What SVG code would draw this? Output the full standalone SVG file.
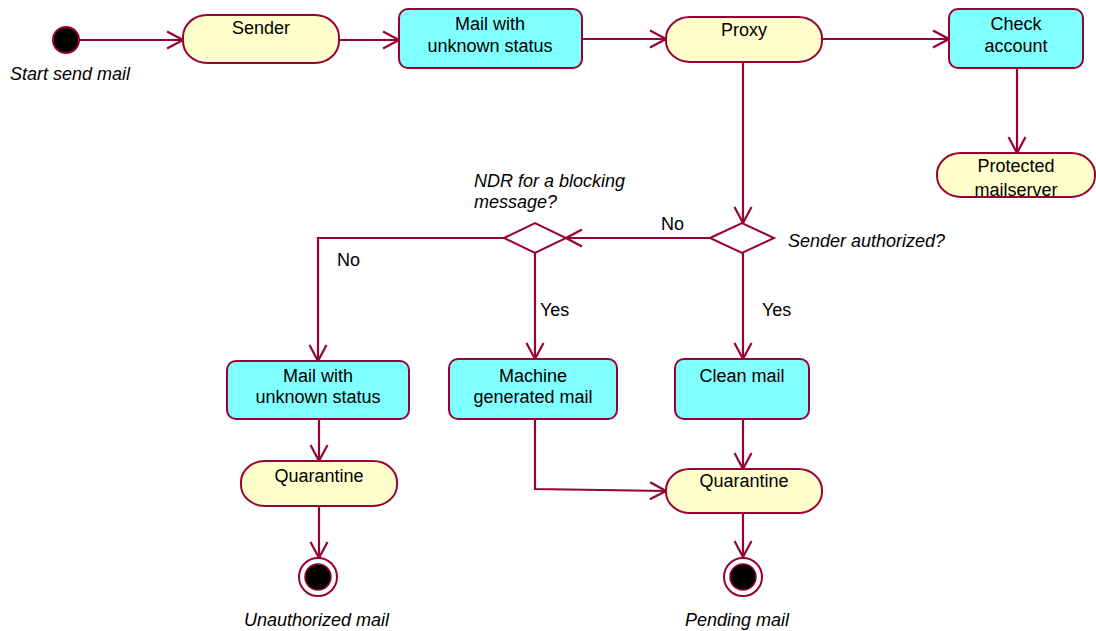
<svg xmlns="http://www.w3.org/2000/svg" width="1096" height="631" viewBox="0 0 1096 631">
  <style>
    .bg { fill: #ffffff; }
    .state { fill: #ffffcc; stroke: #990033; stroke-width: 2; }
    .activity { fill: #80ffff; stroke: #990033; stroke-width: 2; }
    .decision { fill: #ffffff; stroke: #990033; stroke-width: 2; }
    .start { fill: #000000; stroke: #990033; stroke-width: 2; }
    .end-ring { fill: #ffffff; stroke: #990033; stroke-width: 2; }
    .end-dot { fill: #000000; stroke: #990033; stroke-width: 1.5; }
    .edge { fill: none; stroke: #990033; stroke-width: 2.2; marker-end: url(#arrow); }
    .label { font-family: "Liberation Sans", Arial, sans-serif; font-size: 18px; fill: #000000; text-anchor: middle; }
    .note { font-family: "Liberation Sans", Arial, sans-serif; font-size: 18px; font-style: italic; fill: #000000; }
    .guard { font-family: "Liberation Sans", Arial, sans-serif; font-size: 18px; fill: #000000; }
  </style>
  <defs>
    <marker id="arrow" markerUnits="userSpaceOnUse" markerWidth="20" markerHeight="20" viewBox="0 0 20 20" refX="18" refY="10" orient="auto">
      <path d="M2,1.5 L18,10 L2,18.5" fill="none" stroke="#990033" stroke-width="2.2"/>
    </marker>
  </defs>

  <rect class="bg" x="0" y="0" width="1096" height="631"/>

  <!-- connectors -->
  <g id="connectors">
    <path class="edge" d="M79,40 H183"/>
    <path class="edge" d="M339,40 H399"/>
    <path class="edge" d="M582,39 H666"/>
    <path class="edge" d="M822,39 H949"/>
    <path class="edge" d="M1017,68 V153"/>
    <path class="edge" d="M743,62 V223"/>
    <path class="edge" d="M710,238 H566"/>
    <path class="edge" d="M504,238 H318 V361"/>
    <path class="edge" d="M535,253 V359"/>
    <path class="edge" d="M743,253 V359"/>
    <path class="edge" d="M319,419 V461"/>
    <path class="edge" d="M535,419 V489 L666,491"/>
    <path class="edge" d="M743,419 V469"/>
    <path class="edge" d="M319,505 V558"/>
    <path class="edge" d="M743,513 V557"/>
    <text class="guard" x="661" y="230">No</text>
    <text class="guard" x="337" y="266">No</text>
    <text class="guard" x="540" y="316">Yes</text>
    <text class="guard" x="762" y="316">Yes</text>
  </g>

  <!-- start -->
  <g id="start">
    <circle class="start" cx="66" cy="40" r="13"/>
    <text class="note" x="10" y="80">Start send mail</text>
  </g>

  <g id="sender">
    <rect class="state" x="183" y="15" width="156" height="48" rx="24" ry="22"/>
    <text class="label" x="261" y="34">Sender</text>
  </g>

  <g id="mail-unknown-1">
    <rect class="activity" x="399" y="9" width="183" height="59" rx="9" ry="9"/>
    <text class="label" x="490" y="30">Mail with</text>
    <text class="label" x="490" y="52">unknown status</text>
  </g>

  <g id="proxy">
    <rect class="state" x="666" y="17" width="156" height="45" rx="24" ry="21"/>
    <text class="label" x="744" y="36">Proxy</text>
  </g>

  <g id="check-account">
    <rect class="activity" x="949" y="9" width="134" height="59" rx="9" ry="9"/>
    <text class="label" x="1016" y="30">Check</text>
    <text class="label" x="1016" y="52">account</text>
  </g>

  <g id="protected-mailserver">
    <rect class="state" x="937" y="153" width="158" height="44" rx="24" ry="21"/>
    <text class="label" x="1016" y="172">Protected</text>
    <text class="label" x="1016" y="196">mailserver</text>
  </g>

  <g id="sender-authorized">
    <polygon class="decision" points="710,238 742,223 774,238 742,253"/>
    <text class="note" x="788" y="247">Sender authorized?</text>
  </g>

  <g id="ndr-blocking">
    <polygon class="decision" points="504,238 535,223 566,238 535,253"/>
    <text class="note" x="474" y="187">NDR for a blocking</text>
    <text class="note" x="474" y="208">message?</text>
  </g>

  <g id="mail-unknown-2">
    <rect class="activity" x="227" y="361" width="182" height="58" rx="9" ry="9"/>
    <text class="label" x="318" y="382">Mail with</text>
    <text class="label" x="318" y="403">unknown status</text>
  </g>

  <g id="machine-generated">
    <rect class="activity" x="449" y="359" width="168" height="60" rx="9" ry="9"/>
    <text class="label" x="533" y="382">Machine</text>
    <text class="label" x="533" y="403">generated mail</text>
  </g>

  <g id="clean-mail">
    <rect class="activity" x="675" y="359" width="134" height="60" rx="9" ry="9"/>
    <text class="label" x="742" y="382">Clean mail</text>
  </g>

  <g id="quarantine-1">
    <rect class="state" x="241" y="461" width="156" height="45" rx="24" ry="21"/>
    <text class="label" x="319" y="482">Quarantine</text>
  </g>

  <g id="quarantine-2">
    <rect class="state" x="666" y="469" width="156" height="44" rx="24" ry="21"/>
    <text class="label" x="744" y="487">Quarantine</text>
  </g>

  <g id="end-unauthorized">
    <circle class="end-ring" cx="318" cy="577" r="19"/>
    <circle class="end-dot" cx="318" cy="577" r="13"/>
    <text class="note" x="244" y="626">Unauthorized mail</text>
  </g>

  <g id="end-pending">
    <circle class="end-ring" cx="743" cy="577" r="19"/>
    <circle class="end-dot" cx="743" cy="577" r="13"/>
    <text class="note" x="685" y="626">Pending mail</text>
  </g>
</svg>
